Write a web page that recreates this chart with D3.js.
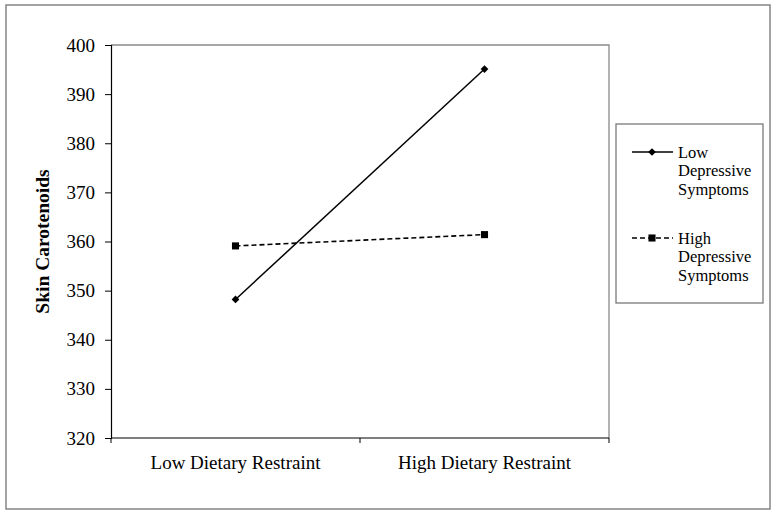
<!DOCTYPE html>
<html>
<head>
<meta charset="utf-8">
<script src="https://cdn.jsdelivr.net/npm/d3@7"></script>
<style>
  body { margin: 0; background: #fff; }
  svg text { font-family: "Liberation Serif", "Times New Roman", serif; fill: #000; }
</style>
</head>
<body>
<div id="chart"></div>
<script>
// data
const categories = ["Low Dietary Restraint", "High Dietary Restraint"];
const seriesNames = ["Low Depressive Symptoms", "High Depressive Symptoms"];
const lowDepValues = [348.2, 395.1];
const highDepValues = [359.1, 361.4];
const yTicks = [320, 330, 340, 350, 360, 370, 380, 390, 400];

const W = 775, H = 515;
const margin = { top: 45, left: 111, right: 166, bottom: 77 };
const width = W - margin.left - margin.right;
const height = H - margin.top - margin.bottom;

const svg = d3.select("#chart").append("svg")
    .attr("width", W)
    .attr("height", H);

// outer frame
svg.append("rect")
    .attr("x", 6).attr("y", 5)
    .attr("width", 764).attr("height", 504)
    .attr("fill", "none")
    .attr("stroke", "#858585")
    .attr("stroke-width", 1.5);

const g = svg.append("g")
    .attr("transform", `translate(${margin.left},${margin.top})`);

// scales
const xScale = d3.scaleBand().domain(categories).range([0, width]);
const yScale = d3.scaleLinear().domain([320, 400]).range([height, 0]);

// plot area border (gray top/right)
g.append("path")
    .attr("d", `M0,0H${width}V${height}`)
    .attr("fill", "none")
    .attr("stroke", "#8a8a8a")
    .attr("stroke-width", 1.3);

// y axis
const yAxis = d3.axisLeft(yScale).tickValues(yTicks).tickSize(6).tickPadding(10);
const yG = g.append("g").attr("class", "y-axis").call(yAxis)
    .attr("font-family", "Liberation Serif");
yG.select(".domain").attr("stroke", "#000").attr("stroke-width", 1.2);
yG.selectAll(".tick line").attr("stroke", "#000");
yG.selectAll(".tick text").attr("font-size", "19px");

// x axis - ticks on band edges
const xEdges = [0, width / 2, width];
g.append("line")
    .attr("x1", 0).attr("x2", width)
    .attr("y1", height).attr("y2", height)
    .attr("stroke", "#000").attr("stroke-width", 1.2);
g.selectAll(".xtick")
    .data(xEdges)
    .enter().append("line")
    .attr("class", "xtick")
    .attr("x1", d => d).attr("x2", d => d)
    .attr("y1", height).attr("y2", height + 5)
    .attr("stroke", "#000");
g.selectAll(".xlabel")
    .data(categories)
    .enter().append("text")
    .attr("class", "xlabel")
    .attr("x", d => xScale(d) + xScale.bandwidth() / 2)
    .attr("y", height + 31)
    .attr("text-anchor", "middle")
    .attr("font-size", "19px")
    .text(d => d);

// y axis title
g.append("text")
    .attr("transform", `translate(-62,${height / 2}) rotate(-90)`)
    .attr("text-anchor", "middle")
    .attr("font-size", "19.5px")
    .attr("font-weight", "bold")
    .text("Skin Carotenoids");

// lines
const line = d3.line()
    .x((d, i) => xScale(categories[i]) + xScale.bandwidth() / 2)
    .y(d => yScale(d));

g.append("path")
    .datum(lowDepValues)
    .attr("d", line)
    .attr("fill", "none")
    .attr("stroke", "#000")
    .attr("stroke-width", 1.5);

g.append("path")
    .datum(highDepValues)
    .attr("d", line)
    .attr("fill", "none")
    .attr("stroke", "#000")
    .attr("stroke-width", 1.6)
    .attr("stroke-dasharray", "5,3");

// markers
const diamond = d3.symbol().type(d3.symbolSquare).size(30);
const square = d3.symbol().type(d3.symbolSquare).size(50);

g.selectAll(".pt-low")
    .data(lowDepValues)
    .enter().append("path")
    .attr("class", "pt-low")
    .attr("d", diamond)
    .attr("transform", (d, i) => `translate(${xScale(categories[i]) + xScale.bandwidth() / 2},${yScale(d)}) rotate(45)`)
    .attr("fill", "#000");

g.selectAll(".pt-high")
    .data(highDepValues)
    .enter().append("path")
    .attr("class", "pt-high")
    .attr("d", square)
    .attr("transform", (d, i) => `translate(${xScale(categories[i]) + xScale.bandwidth() / 2},${yScale(d)})`)
    .attr("fill", "#000");

// legend
const legend = svg.append("g").attr("transform", "translate(616,124)");
legend.append("rect")
    .attr("width", 147).attr("height", 179)
    .attr("fill", "#fff")
    .attr("stroke", "#7a7a7a")
    .attr("stroke-width", 1.3);

const legendItems = [
    { name: seriesNames[0], dash: null, sym: diamond, rot: 45, y: 28, words: ["Low", "Depressive", "Symptoms"] },
    { name: seriesNames[1], dash: "5,3", sym: square, rot: 0, y: 114, words: ["High", "Depressive", "Symptoms"] }
];

legendItems.forEach(item => {
    const li = legend.append("g").attr("transform", `translate(0,${item.y})`);
    li.append("line")
        .attr("x1", 16).attr("x2", 57)
        .attr("stroke", "#000").attr("stroke-width", 1.5)
        .attr("stroke-dasharray", item.dash);
    li.append("path")
        .attr("d", item.sym)
        .attr("transform", `translate(36,0) rotate(${item.rot})`)
        .attr("fill", "#000");
    const t = li.append("text")
        .attr("x", 62).attr("y", 5.5)
        .attr("font-size", "16.5px");
    item.words.forEach((w, i) => {
        t.append("tspan").attr("x", 62).attr("dy", i === 0 ? 0 : 18.5).text(w);
    });
});
</script>
</body>
</html>
